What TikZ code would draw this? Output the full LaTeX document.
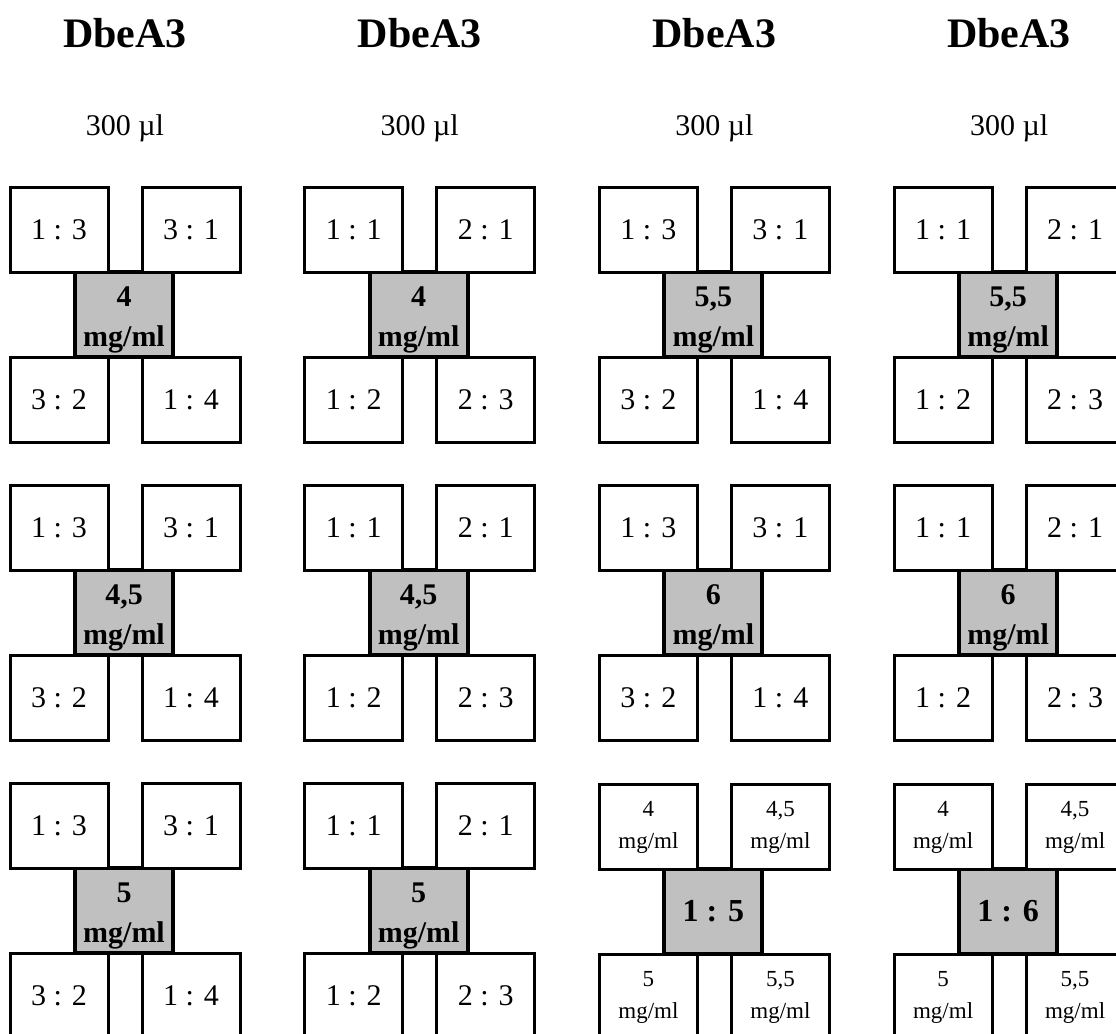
\documentclass[tikz,border=0pt]{standalone}
\usepackage{fontspec}
\setmainfont{Liberation Serif}
\usetikzlibrary{positioning}
\definecolor{cellgray}{HTML}{C0C0C0}

\begin{document}
\begin{tikzpicture}[x=0.5pt, y=-0.5pt,
    ratio/.style={draw, line width=1.5pt, fill=white, inner sep=0pt,
                  minimum width=49pt, minimum height=42.5pt,
                  font=\fontsize{15}{18}\selectfont},
    dose/.style={ratio, align=center, font=\fontsize{11.5}{16}\selectfont},
    conc/.style={draw, line width=2pt, fill=cellgray, inner sep=0pt, align=center,
                 minimum width=49pt, minimum height=42.5pt,
                 font=\fontsize{15}{20}\selectfont\bfseries},
    title/.style={anchor=base, font=\fontsize{21}{25}\selectfont\bfseries},
    vol/.style={anchor=base, font=\fontsize{15}{18}\selectfont},
]
\useasboundingbox (0,0) rectangle (1116,1034);
\clip (0,0) rectangle (1116,1034);

% column heads
\foreach \col in {1,...,4} {
  \node[title] (head\col) at ({125+294.7*(\col-1)},47) {DbeA3};
  \node[vol]   (vol\col)  at ({125+294.7*(\col-1)},135) {300 µl};
}

% ratio groups: gray concentration in the middle, four ratios round it
\foreach \col/\row/\ta/\tb/\cc/\ba/\bb in {
    1/1/{1 : 3}/{3 : 1}/4/{3 : 2}/{1 : 4},
    2/1/{1 : 1}/{2 : 1}/4/{1 : 2}/{2 : 3},
    3/1/{1 : 3}/{3 : 1}/{5,5}/{3 : 2}/{1 : 4},
    4/1/{1 : 1}/{2 : 1}/{5,5}/{1 : 2}/{2 : 3},
    1/2/{1 : 3}/{3 : 1}/{4,5}/{3 : 2}/{1 : 4},
    2/2/{1 : 1}/{2 : 1}/{4,5}/{1 : 2}/{2 : 3},
    3/2/{1 : 3}/{3 : 1}/6/{3 : 2}/{1 : 4},
    4/2/{1 : 1}/{2 : 1}/6/{1 : 2}/{2 : 3},
    1/3/{1 : 3}/{3 : 1}/5/{3 : 2}/{1 : 4},
    2/3/{1 : 1}/{2 : 1}/5/{1 : 2}/{2 : 3}} {
  \pgfmathsetmacro{\gx}{10+294.7*(\col-1)}
  \pgfmathsetmacro{\gy}{187+298*(\row-1)}
  \node[conc]  (mid-\col-\row) at (\gx+114,\gy+127.5) {\rule{0pt}{15pt}\cc\\mg/ml};
  \node[ratio] (tl-\col-\row)  at (\gx+49,\gy+42.5)   {\ta};
  \node[ratio] (tr-\col-\row)  at (\gx+181,\gy+42.5)  {\tb};
  \node[ratio] (bl-\col-\row)  at (\gx+49,\gy+212.5)  {\ba};
  \node[ratio] (br-\col-\row)  at (\gx+181,\gy+212.5) {\bb};
}

% last row, right half: ratio in the middle, concentrations round it
\foreach \col/\cc in {3/{1 : 5}, 4/{1 : 6}} {
  \pgfmathsetmacro{\gx}{10+294.7*(\col-1)}
  \node[conc, font=\fontsize{16}{19}\selectfont\bfseries]
               (mid-\col-3) at (\gx+114,911.5) {\cc};
  \node[dose]  (tl-\col-3)  at (\gx+49,827)  {4\\mg/ml};
  \node[dose]  (tr-\col-3)  at (\gx+181,827) {4,5\\mg/ml};
  \node[dose]  (bl-\col-3)  at (\gx+49,997)  {5\\mg/ml};
  \node[dose]  (br-\col-3)  at (\gx+181,997) {5,5\\mg/ml};
}
\end{tikzpicture}
\end{document}
